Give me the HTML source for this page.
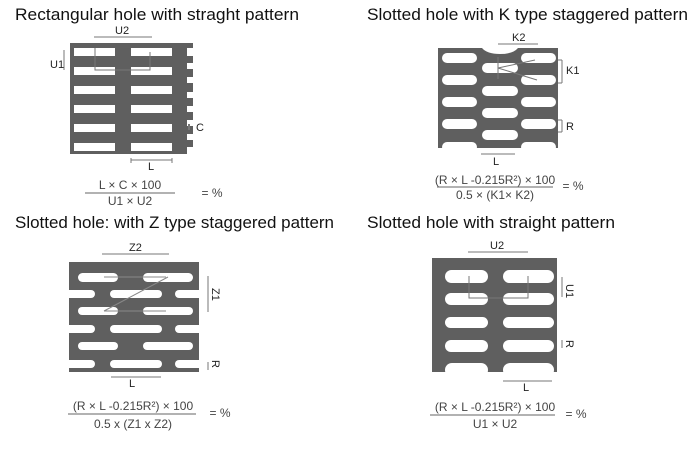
<!DOCTYPE html>
<html><head><style>html,body{margin:0;padding:0;background:#fff}svg{display:block}</style></head><body>
<svg width="691" height="452" viewBox="0 0 691 452" xmlns="http://www.w3.org/2000/svg" font-family="Liberation Sans, sans-serif">
<rect width="691" height="452" fill="#fff"/>
<g font-size="17" fill="#111">
<text x="15" y="20" textLength="284" lengthAdjust="spacingAndGlyphs">Rectangular hole with straght pattern</text>
<text x="367" y="20" textLength="321" lengthAdjust="spacingAndGlyphs">Slotted hole with K type staggered pattern</text>
<text x="15" y="228" textLength="319" lengthAdjust="spacingAndGlyphs">Slotted hole: with Z type staggered pattern</text>
<text x="367" y="228" textLength="248" lengthAdjust="spacingAndGlyphs">Slotted hole with straight pattern</text>
</g>
<g fill="#fff">
<rect x="70" y="43" width="123" height="111" fill="#5f5f5f"/>
<g>
<rect x="74" y="48" width="41" height="8"/><rect x="131" y="48" width="41" height="8"/>
<rect x="74" y="67" width="41" height="8"/><rect x="131" y="67" width="41" height="8"/>
<rect x="74" y="86" width="41" height="8"/><rect x="131" y="86" width="41" height="8"/>
<rect x="74" y="105" width="41" height="8"/><rect x="131" y="105" width="41" height="8"/>
<rect x="74" y="124" width="41" height="8"/><rect x="131" y="124" width="41" height="8"/>
<rect x="74" y="143" width="41" height="8"/><rect x="131" y="143" width="41" height="8"/>
<rect x="187" y="48" width="6" height="8"/><rect x="187" y="63" width="6" height="6"/><rect x="187" y="77" width="6" height="6"/>
<rect x="187" y="92" width="6" height="6"/><rect x="187" y="106" width="6" height="6"/><rect x="187" y="120" width="6" height="6"/>
<rect x="187" y="134" width="6" height="6"/><rect x="187" y="147" width="6" height="7"/>
</g>
<path d="M438 48 H482 Q487 54 500 54 Q513 54 518 48 H558 V148 H438 Z" fill="#5f5f5f"/>
<rect x="442" y="53" width="35" height="10" rx="5"/><rect x="521" y="53" width="35" height="10" rx="5"/>
<rect x="442" y="75" width="35" height="10" rx="5"/><rect x="521" y="75" width="35" height="10" rx="5"/>
<rect x="442" y="97" width="35" height="10" rx="5"/><rect x="521" y="97" width="35" height="10" rx="5"/>
<rect x="442" y="119" width="35" height="10" rx="5"/><rect x="521" y="119" width="35" height="10" rx="5"/>
<rect x="442" y="142" width="35" height="10" rx="5"/><rect x="521" y="142" width="35" height="10" rx="5"/>
<rect x="482" y="63" width="36" height="10" rx="5"/><rect x="482" y="86" width="36" height="10" rx="5"/>
<rect x="482" y="108" width="36" height="10" rx="5"/><rect x="482" y="130" width="36" height="10" rx="5"/>
<rect x="436" y="148" width="124" height="6"/>
<rect x="69" y="262" width="130" height="110" fill="#5f5f5f"/>
<rect x="78" y="273" width="40" height="9" rx="4.5"/><rect x="143" y="273" width="50" height="9" rx="4.5"/>
<rect x="60" y="290" width="35" height="8" rx="4"/><rect x="110" y="290" width="52" height="8" rx="4"/><rect x="175" y="290" width="35" height="8" rx="4"/>
<rect x="78" y="307" width="40" height="8" rx="4"/><rect x="143" y="307" width="50" height="8" rx="4"/>
<rect x="60" y="325" width="35" height="8" rx="4"/><rect x="110" y="325" width="52" height="8" rx="4"/><rect x="175" y="325" width="35" height="8" rx="4"/>
<rect x="78" y="342" width="40" height="8" rx="4"/><rect x="143" y="342" width="50" height="8" rx="4"/>
<rect x="60" y="360" width="35" height="8" rx="4"/><rect x="110" y="360" width="52" height="8" rx="4"/><rect x="175" y="360" width="35" height="8" rx="4"/>
<rect x="60" y="372" width="150" height="5"/>
<rect x="432" y="258" width="125" height="114" fill="#5f5f5f"/>
<rect x="445" y="270" width="43" height="13" rx="6.5"/><rect x="503" y="270" width="51" height="13" rx="6.5"/>
<rect x="445" y="293" width="43" height="12" rx="6"/><rect x="503" y="293" width="51" height="12" rx="6"/>
<rect x="445" y="317" width="43" height="11" rx="5.5"/><rect x="503" y="317" width="51" height="11" rx="5.5"/>
<rect x="445" y="340" width="43" height="12" rx="6"/><rect x="503" y="340" width="51" height="12" rx="6"/>
<rect x="445" y="363" width="43" height="14" rx="7"/><rect x="503" y="363" width="51" height="14" rx="7"/>
<rect x="430" y="372" width="130" height="6"/>
</g>
<g stroke="#777" stroke-width="1" fill="none">
<path d="M94 37 H152"/><path d="M64 50 V70"/><path d="M95 48 V70 H150 V52"/>
<path d="M131 160 H172 M131 158 V163 M172 158 V163"/>
<path d="M189 124 V130" stroke-width="2"/>
<path d="M498 44 H538"/><path d="M562 60 V83 M558 60 H562 M558 83 H562"/>
<path d="M498 57 V79 M498 68 L535 60 M498 68 L537 80"/>
<path d="M562 120 V132 M558 120 H562 M558 132 H562"/>
<path d="M481 154 H515"/>
<path d="M102 254 H169"/><path d="M208 276 V312"/>
<path d="M104 277 H166 M104 311 H166 M104 311 L168 277" stroke="#888"/>
<path d="M208 362 V370"/><path d="M111 377 H161"/>
<path d="M468 252 H528"/><path d="M562 277 V297"/><path d="M469 276 V298 H528 V276"/>
<path d="M562 340 V348"/><path d="M503 381 H552"/>
</g>
<g font-size="11" fill="#222">
<text x="115" y="34">U2</text><text x="50" y="68">U1</text><text x="196" y="131">C</text><text x="148" y="170">L</text>
<text x="512" y="41">K2</text><text x="566" y="74">K1</text><text x="566" y="130">R</text><text x="493" y="165">L</text>
<text x="129" y="251">Z2</text><text x="129" y="387">L</text>
<text transform="translate(212,288) rotate(90)">Z1</text><text transform="translate(212,360) rotate(90)">R</text>
<text x="490" y="249">U2</text><text x="523" y="391">L</text>
<text transform="translate(566,284) rotate(90)">U1</text><text transform="translate(566,340) rotate(90)">R</text>
</g>
<g font-size="12" fill="#444" text-anchor="middle">
<text x="130" y="189">L × C × 100</text><path d="M85 193 H175" stroke="#666"/><text x="130" y="205">U1 × U2</text>
<text x="212" y="197">= %</text>
<text x="495" y="184">(R × L -0.215R²) × 100</text><path d="M437 187 H553" stroke="#666"/><text x="495" y="199">0.5 × (K1× K2)</text>
<text x="573" y="190">= %</text>
<text x="133" y="410">(R × L -0.215R²) × 100</text><path d="M68 414 H196" stroke="#666"/><text x="133" y="428">0.5 x (Z1 x Z2)</text>
<text x="220" y="417">= %</text>
<text x="495" y="411">(R × L -0.215R²) × 100</text><path d="M430 415 H555" stroke="#666"/><text x="495" y="428">U1 × U2</text>
<text x="576" y="418">= %</text>
</g>
</svg>
</body></html>
